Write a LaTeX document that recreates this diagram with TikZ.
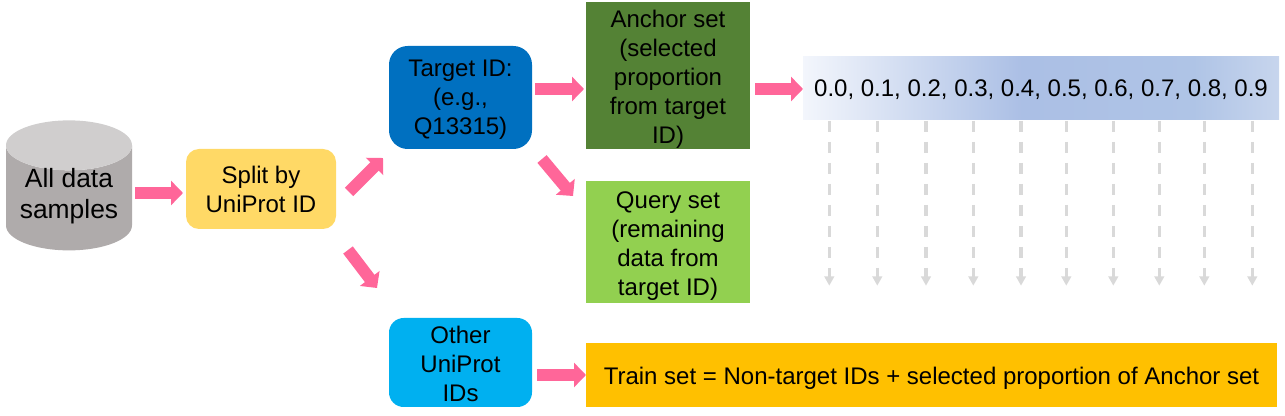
\documentclass[tikz,border=0pt]{standalone}
\usepackage{fontspec}
\setmainfont{Liberation Sans}
\usetikzlibrary{arrows.meta,shapes.geometric}
\definecolor{cylbody}{HTML}{AFABAB}
\definecolor{cyltop}{HTML}{D0CECE}
\definecolor{splitc}{HTML}{FFD966}
\definecolor{targetc}{HTML}{0070C0}
\definecolor{anchorc}{HTML}{548235}
\definecolor{queryc}{HTML}{92D050}
\definecolor{otherc}{HTML}{00B0F0}
\definecolor{trainc}{HTML}{FFC000}
\definecolor{arrowc}{HTML}{FF6699}
\definecolor{dashc}{HTML}{D9D9D9}
\definecolor{rA}{HTML}{F3F6FC}
\definecolor{rB}{HTML}{ABBFE5}
\definecolor{rC}{HTML}{AFC4E6}
\definecolor{rD}{HTML}{C7D5ED}
\pgfdeclarehorizontalshading{rangeshade}{100bp}{color(0bp)=(rA); color(25bp)=(rA); color(48bp)=(rB); color(66bp)=(rC); color(75bp)=(rD); color(100bp)=(rD)}
\newcommand\dn[2]{\raisebox{-#1}[\height][\depth]{\begin{tabular}{@{}c@{}}#2\end{tabular}}}
\tikzset{
  box/.style={inner sep=0pt,outer sep=0pt,align=center,text=black,
    font=\fontsize{18}{21.75}\selectfont},
  rbox/.style={box,rounded corners=#1},
  flow/.style={draw=arrowc,line width=9pt,
    -{Triangle[length=9pt,width=18pt,fill=arrowc,color=arrowc]}},
  dashflow/.style={draw=dashc,line width=2.4pt,dash pattern=on 8.25pt off 7.5pt,
    -{Triangle[length=7pt,width=7.2pt,fill=dashc,color=dashc]}}
}
\begin{document}
\begin{tikzpicture}[x=0.75pt,y=-0.75pt]
\useasboundingbox (0,0) rectangle (1285,416);
\node[cylinder,shape border rotate=90,aspect=0.508,cylinder uses custom fill,
  cylinder body fill=cylbody,cylinder end fill=cyltop,box,
  font=\fontsize{19.8}{23.6}\selectfont,
  minimum width=94.5pt,minimum height=97.5pt] (db) at (69,198) {\raisebox{-4.2pt}[14pt][14pt]{\begin{tabular}{@{}c@{}}All data\\samples\end{tabular}}};
\node[rbox=9.75pt,fill=splitc,minimum width=112.5pt,minimum height=60pt] (split) at (261,189) {\dn{2.7pt}{Split by\\UniProt ID}};
\node[rbox=14pt,fill=targetc,minimum width=107.25pt,minimum height=77.25pt] (target) at (460.5,97.5) {\dn{2pt}{Target ID:\\(e.g.,\\Q13315)}};
\node[box,fill=anchorc,minimum width=123pt,minimum height=110.25pt] (anchor) at (668,75.5) {\dn{3pt}{Anchor set\\(selected\\proportion\\from target\\ID)}};
\node[box,fill=queryc,minimum width=123pt,minimum height=91.5pt] (query) at (668,242) {\dn{3pt}{Query set\\(remaining\\data from\\target ID)}};
\node[rbox=11pt,fill=otherc,minimum width=107.25pt,minimum height=66.75pt] (other) at (460.5,362.5) {\dn{3pt}{Other\\UniProt\\IDs}};
\node[box,fill=trainc,minimum width=518.25pt,minimum height=48pt] (train) at (931.5,375) {\dn{2.8pt}{Train set = Non-target IDs + selected proportion of Anchor set}};
\node[box,shading=rangeshade,minimum width=357pt,minimum height=47.25pt] (range) at (1041,88.5) {\dn{1.5pt}{0.0, 0.1, 0.2, 0.3, 0.4, 0.5, 0.6, 0.7, 0.8, 0.9}};
\draw[flow] ([shift={(3,-5)}]db.east) -- ([shift={(-3,4)}]split.west);
\draw[flow] ([shift={(13,43)}]split.north east) -- ([shift={(-6,9)}]target.south west);
\draw[flow] ([shift={(12,21)}]split.south east) -- ([shift={(-12,-30)}]other.north west);
\draw[flow] ([shift={(10,10)}]target.south east) -- ([shift={(-13,15)}]query.north west);
\draw[flow] ([shift={(3,-8.5)}]target.east) -- ([shift={(-2,13.5)}]anchor.west);
\draw[flow] ([shift={(5,13.5)}]anchor.east) -- ([shift={(0,0.5)}]range.west);
\draw[flow] ([shift={(5,12.5)}]other.east) -- (train.west);
\foreach \i/\x in {1/829.3,2/877.3,3/926,4/973.3,5/1021,6/1066.3,7/1113.3,8/1159.3,9/1204.3,10/1252.3}{
  \coordinate (end\i) at (\x,285.7);
  \draw[dashflow,shorten <=0.75pt] (range.south -| end\i) -- (end\i);
}
\end{tikzpicture}
\end{document}
